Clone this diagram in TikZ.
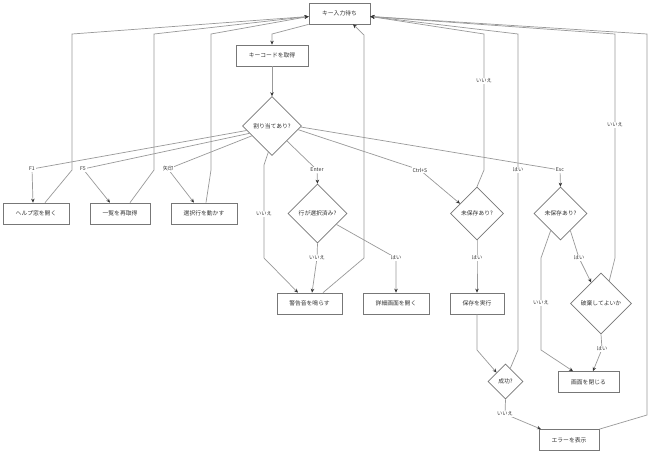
\documentclass[tikz,border=0pt]{standalone}
\usepackage{fontspec}
\setmainfont{Noto Sans CJK JP}
\usetikzlibrary{shapes.geometric,arrows.meta}
\definecolor{edgegray}{HTML}{999999}
\definecolor{boxgray}{HTML}{777777}
\definecolor{textgray}{HTML}{333333}
\tikzset{
  procbox/.style={draw=boxgray, line width=0.7pt, rectangle, inner sep=0pt, minimum height=21pt, text=textgray, font=\fontsize{5.8}{6}\selectfont},
  decbox/.style={draw=boxgray, line width=0.7pt, diamond, inner sep=0pt, text=textgray, font=\fontsize{5.8}{6}\selectfont},
  flow/.style={draw=edgegray, line width=0.7pt, -{Stealth[length=4pt,width=3.5pt,color=textgray]}},
  elabel/.style={fill=white, inner sep=1pt, text=textgray, font=\fontsize{5.2}{6}\selectfont},
}
\begin{document}
\begin{tikzpicture}[x=1pt, y=-1pt]
\useasboundingbox[fill=white] (0,0) rectangle (650,463);
\node[procbox, minimum width=61pt] (wait) at (339.5,13.5) {キー入力待ち};
\node[procbox, minimum width=72pt] (get) at (272,55.5) {キーコードを取得};
\node[decbox, minimum size=59pt] (assign) at (272,126) {割り当てあり?};
\node[procbox, minimum width=66pt] (help) at (36,213.5) {ヘルプ窓を開く};
\node[procbox, minimum width=60pt] (reload) at (120,213.5) {一覧を再取得};
\node[procbox, minimum width=66pt] (move) at (204,213.5) {選択行を動かす};
\node[decbox, minimum size=59pt] (selected) at (317.5,213.5) {行が選択済み?};
\node[procbox, minimum width=65pt] (warn) at (309.5,303.5) {警告音を鳴らす};
\node[procbox, minimum width=66pt] (detail) at (396,303.5) {詳細画面を開く};
\node[decbox, minimum size=53pt] (unsaved1) at (477,213.5) {未保存あり?};
\node[procbox, minimum width=54pt] (save) at (477,303.5) {保存を実行};
\node[decbox, minimum size=35pt] (success) at (505.5,381.5) {成功?};
\node[decbox, minimum size=53pt] (unsaved2) at (560.5,213.5) {未保存あり?};
\node[decbox, minimum size=61pt] (discard) at (601,303.5) {破棄してよいか};
\node[procbox, minimum width=61pt] (close) at (588.5,382) {画面を閉じる};
\node[procbox, minimum width=60pt] (error) at (569,440) {エラーを表示};
\draw[flow] (wait.south west) -- (272,34) -- (get.north);
\draw[flow] (get) -- (assign);
\draw[flow] (assign.190) -- (32,169) node[elabel] (lF1) {F1} -- ([xshift=-3pt]help.north);
\draw[flow] (assign.198) -- (83,169) node[elabel] (lF5) {F5} -- ([xshift=-10pt]reload.north);
\draw[flow] (assign.206) -- (168,169) node[elabel] (larrow) {矢印} -- ([xshift=-10pt]move.north);
\draw[flow] ([xshift=9pt]help.north) -- (72,170) -- (72,34) -- ([yshift=-3pt]wait.west);
\draw[flow] ([xshift=10pt]reload.north) -- (154,170) -- (154,34) -- ([yshift=-3pt]wait.west);
\draw[flow] ([xshift=2pt]move.north) -- (211,170) -- (211,34) -- ([yshift=-3pt]wait.west);
\draw[flow] (assign.262) -- (264,165) -- (264,214) node[elabel] (lno1) {いいえ} -- (264,258) -- ([xshift=-11.5pt]warn.north);
\draw[flow] (assign.-45) -- (317,170) node[elabel] (lenter) {Enter} -- (selected.north);
\draw[flow] (selected.south) -- (317,258) node[elabel] (lno2) {いいえ} -- ([xshift=2.5pt]warn.north);
\draw[flow] (selected.-30) -- (396,258) node[elabel] (lyes1) {はい} -- (detail.north);
\draw[flow] ([xshift=13.5pt]warn.north) -- (364,258) -- (364,35) -- ([xshift=13.5pt]wait.south);
\draw[flow] (assign.-8) -- (420,170) node[elabel] (lctrl) {Ctrl+S} -- (unsaved1.150);
\draw[flow] (unsaved1.south) -- (477,258) node[elabel] (lyes2) {はい} -- (save.north);
\draw[flow] (unsaved1.north) -- (484,170) -- (484,81) node[elabel] (lno3) {いいえ} -- (484,34) -- ([yshift=-3pt]wait.east);
\draw[flow] (save.south) -- (477,350) -- (success.135);
\draw[flow] (success.70) -- (518,350) -- (518,170) node[elabel] (lyes3) {はい} -- (518,34) -- ([yshift=-3pt]wait.east);
\draw[flow] (success.south) -- (505,414) node[elabel] (lno4) {いいえ} -- ([xshift=-28pt]error.north);
\draw[flow] (assign.-2) -- (560,170) node[elabel] (lesc) {Esc} -- (unsaved2.north);
\draw[flow] (unsaved2.240) -- (541,258) -- (541,303) node[elabel] (lno5) {いいえ} -- (541,350) -- ([xshift=-15.5pt]close.north);
\draw[flow] (unsaved2.-60) -- (579,258) node[elabel] (lyes4) {はい} -- (discard.115);
\draw[flow] (discard.south) -- (602,349) node[elabel] (lyes5) {はい} -- ([xshift=4.5pt]close.north);
\draw[flow] (discard.70) -- (615,258) -- (615,125) node[elabel] (lno6) {いいえ} -- (615,34) -- ([yshift=-3pt]wait.east);
\draw[flow] (error.north east) -- (647,415) -- (647,34) -- ([yshift=-3pt]wait.east);
\end{tikzpicture}
\end{document}
